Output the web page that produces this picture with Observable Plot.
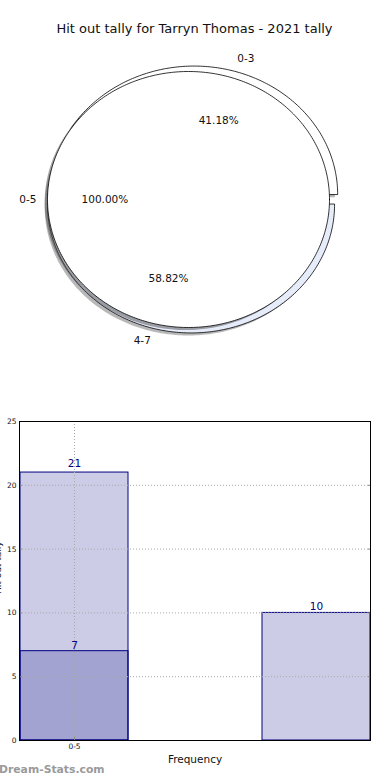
<!DOCTYPE html>
<html><head><meta charset="utf-8">
<script src="https://cdn.jsdelivr.net/npm/d3@7"></script>
<script src="https://cdn.jsdelivr.net/npm/@observablehq/plot@0.6"></script>
<style>
body{margin:0;background:#fff;font-family:"DejaVu Sans",sans-serif;}
#wrap{position:relative;width:390px;height:780px;overflow:hidden;background:#fff;}
#wrap svg{display:block;}
.title{position:absolute;left:0;width:389px;top:21px;text-align:center;font-size:13px;color:#111;font-family:"DejaVu Sans",sans-serif;}
.wm{position:absolute;left:-1px;top:763px;font-size:10.8px;color:#9a9a9a;font-weight:bold;font-family:"DejaVu Sans",sans-serif;}
</style></head><body><div id="wrap"></div>
<script>
// ---- data ----
const chartTitle = "Hit out tally for Tarryn Thomas - 2021 tally";
const tallyLabels = ["0-5"];
const tallyCounts = [21];
const splitLabels = ["0-3", "4-7"];
const splitCounts = [7, 10];
const splitColors = ["#ffffff", "#e6ecfa"];
const tallyColors = ["#ffffff"];
const barSlots = ["0-5", "", "4-7"];
const tallySlots = ["0-5"];
const splitSlots = ["0-5", "4-7"];
const yTicks = [0, 5, 10, 15, 20, 25];
const xTickLabels = ["0-5"];
const xAxisLabel = "Frequency";
const yAxisLabel = "Hit out tally";
const watermark = "Dream-Stats.com";

const wrap = document.getElementById("wrap");

// ---- pie geometry (matplotlib-like, counterclockwise from 3 o'clock) ----
function wedges(labels, values, colors, rx, ry, cx, cy, explode) {
  const total = d3.sum(values);
  let cum = 0;
  return labels.map((label, i) => {
    const a0 = cum / total * 2 * Math.PI; cum += values[i];
    const a1 = cum / total * 2 * Math.PI;
    const mid = (a0 + a1) / 2;
    const full = values[i] === total;
    const ex = full ? 0 : explode;
    const ox = cx + ex * Math.cos(mid), oy = cy + ex * Math.sin(mid);
    const n = Math.max(4, Math.ceil((a1 - a0) / (Math.PI / 180)));
    const pts = [];
    if (!full) pts.push({x: ox, y: oy});
    for (let k = 0; k <= n; k++) {
      const a = a0 + (a1 - a0) * k / n;
      pts.push({x: ox + rx * Math.cos(a), y: oy + ry * Math.sin(a)});
    }
    return {
      label, value: values[i], color: colors[i], pts,
      lx: ox + 1.1 * rx * Math.cos(mid), ly: oy + 1.1 * ry * Math.sin(mid),
      px: ox + 0.6 * rx * Math.cos(mid), py: oy + 0.6 * ry * Math.sin(mid),
      pct: (values[i] / total * 100).toFixed(2) + "%"
    };
  });
}

const outer = wedges(splitLabels, splitCounts, splitColors, 1.018, 1.004, 0.029, 0, 0.04);
const inner = wedges(tallyLabels, tallyCounts, tallyColors, 1.0, 1.0, 0, 0, 0);

const pieMarks = [];
function addPie(ws, shadowOpacity) {
  for (const w of ws) {
    pieMarks.push(Plot.line(w.pts, {x: d => d.x - 0.02, y: d => d.y - 0.02, curve: "linear-closed", fill: "#4d4d4d", fillOpacity: shadowOpacity, stroke: "none"}));
  }
  for (const w of ws) {
    pieMarks.push(Plot.line(w.pts, {x: "x", y: "y", curve: "linear-closed", fill: w.color, stroke: "#000", strokeWidth: 0.8}));
  }
}
addPie(outer, 0.4);
addPie(inner, 0.5);
for (const w of [...outer, ...inner]) {
  const right = w.lx > 0;
  pieMarks.push(Plot.text([w], {x: "lx", y: "ly", text: "label", textAnchor: right ? "start" : "end", dx: right ? 0 : 3, fontSize: 10.5, fill: "#111"}));
  pieMarks.push(Plot.text([w], {x: "px", y: "py", text: "pct", textAnchor: "middle", dx: 1, fontSize: 10.5, fill: "#111"}));
}

const pie = Plot.plot({
  width: 390, height: 390, margin: 0,
  x: {domain: [-1, 1], range: [47, 329], axis: null},
  y: {domain: [-1, 1], range: [327, 71], axis: null},
  style: {fontFamily: "DejaVu Sans, sans-serif", background: "#fff"},
  marks: pieMarks
});
wrap.appendChild(pie);

const t = document.createElement("div");
t.className = "title"; t.textContent = chartTitle;
wrap.appendChild(t);

// ---- bar chart ----
const tallyData = tallyLabels.map((l, i) => ({label: l, slot: tallySlots[i], count: tallyCounts[i]}));
const splitData = splitLabels.map((l, i) => ({label: l, slot: splitSlots[i], count: splitCounts[i]}));
const gridStyle = {stroke: "#a8a8a8", strokeDasharray: "1,2", strokeOpacity: 1, strokeWidth: 1};

const bars = Plot.plot({
  width: 390, height: 390,
  marginTop: 31, marginBottom: 40, marginLeft: 19, marginRight: 20,
  x: {type: "band", domain: barSlots, paddingInner: 0.111, paddingOuter: 0, align: 0.5},
  y: {domain: [0, 25]},
  style: {fontFamily: "DejaVu Sans, sans-serif", background: "#fff", overflow: "visible"},
  marks: [
    Plot.barY(tallyData, {x: "slot", y: "count", fill: "navy", fillOpacity: 0.2, stroke: "navy", strokeWidth: 1}),
    Plot.barY(splitData, {x: "slot", y: "count", fill: "navy", fillOpacity: 0.2, stroke: "navy", strokeWidth: 1}),
    Plot.gridY(yTicks.filter(v => v > 0 && v < 25), gridStyle),
    Plot.gridX(xTickLabels, gridStyle),
    Plot.axisY(yTicks, {anchor: "left", tickSize: -3, tickPadding: 6, fontSize: 7.5, stroke: "#888", fill: "#111", label: null}),
    Plot.axisY(yTicks, {anchor: "right", tickSize: -3, text: null, stroke: "#888", label: null}),
    Plot.axisX(xTickLabels, {anchor: "bottom", tickSize: -3, tickPadding: 6, fontSize: 7.5, stroke: "#888", fill: "#111", label: null}),
    Plot.frame({stroke: "#000", strokeWidth: 1}),
    Plot.text(tallyData, {x: "slot", y: d => d.count * 1.02, text: d => String(d.count), lineAnchor: "bottom", fill: "navy", fontSize: 10.5}),
    Plot.text(splitData, {x: "slot", y: d => d.count * 1.02, text: d => String(d.count), lineAnchor: "bottom", fill: "navy", fontSize: 10.5}),
    Plot.text([xAxisLabel], {frameAnchor: "bottom", dy: 22, text: d => d, fontSize: 10.5, fill: "#111"}),
    Plot.text([yAxisLabel], {frameAnchor: "left", dx: -21, dy: 13, rotate: -90, text: d => d, fontSize: 9, fill: "#111"})
  ]
});
wrap.appendChild(bars);

const w = document.createElement("div");
w.className = "wm"; w.textContent = watermark;
wrap.appendChild(w);
</script>
</body></html>
